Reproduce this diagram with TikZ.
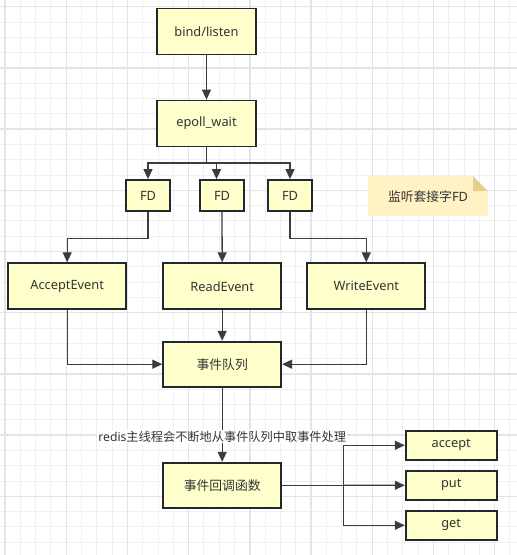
\documentclass[tikz,border=0pt]{standalone}
\usepackage{fontspec}
\setmainfont{Noto Sans}
\newfontfamily\cjk{Noto Sans CJK SC}
\definecolor{boxfill}{RGB}{255,255,204}
\definecolor{boxline}{RGB}{34,40,44}
\definecolor{arrgray}{RGB}{60,60,60}
\definecolor{txtgray}{RGB}{51,51,51}
\definecolor{notefill}{RGB}{255,242,196}
\definecolor{notefold}{RGB}{229,208,140}
\definecolor{gridmajor}{RGB}{228,228,228}
\definecolor{gridminor}{RGB}{240,240,240}
\usetikzlibrary{arrows.meta,positioning,calc}

\begin{document}
\begin{tikzpicture}[x=1pt, y=-1pt,
    box/.style={draw=boxline, line width=1.8pt, fill=boxfill, text=txtgray,
                minimum width=99pt, minimum height=46pt,
                font=\fontsize{12.8}{15}\selectfont},
    fdbox/.style={box, minimum width=44pt, minimum height=31pt},
    op/.style={box, minimum width=91pt, minimum height=29pt},
    arr/.style={-{Triangle[length=10pt,width=9pt]}, line width=1.3pt, arrgray},
    lbl/.style={font=\fontsize{12.2}{14}\selectfont, text=txtgray, fill=white,
                inner sep=1pt}
  ]
    \useasboundingbox (0,0) rectangle (517,555);
    \fill[white] (0,0) rectangle (517,555);

    % Background grid
    \foreach \i in {-1,...,34}
      \draw[gridminor, line width=1pt] (5+15.3*\i,0) -- (5+15.3*\i,555);
    \foreach \i in {-1,...,36}
      \draw[gridminor, line width=1pt] (0,6.7+15.3*\i) -- (517,6.7+15.3*\i);
    \foreach \i in {0,...,8}
      \draw[gridmajor, line width=1.4pt] (5+61.2*\i,0) -- (5+61.2*\i,555);
    \foreach \i in {0,...,9}
      \draw[gridmajor, line width=1.4pt] (0,6.7+61.2*\i) -- (517,6.7+61.2*\i);

    % Listen and wait
    \node[box] (bind) at (206.5, 31.5) {bind/listen};
    \node[box] (epoll) at (206.5, 123.5) {epoll\_wait};
    \draw[arr] (bind) -- (epoll);

    % Ready descriptors
    \node[fdbox] (fd1) at (148, 195.5) {FD};
    \node[fdbox] (fd2) at (222, 195.5) {FD};
    \node[fdbox] (fd3) at (290, 195.5) {FD};
    \coordinate (split) at (206.5, 163);
    \draw[arr] (epoll.south) -- (split) -| (fd1.north);
    \draw[arr] (split) -| ([xshift=-5.5pt]fd2.north);
    \draw[arr] (split) -| (fd3.north);

    % Note
    \fill[notefill] (368,176) -- (473,176) -- (488,191) -- (488,216) -- (368,216) -- cycle;
    \fill[notefold] (473,176) -- (488,191) -- (473,191) -- cycle;
    \node[font=\fontsize{12.8}{15}\selectfont, text=txtgray] (note) at (428, 196.5)
      {{\cjk 监听套接字}FD};

    % Events
    \node[box, minimum width=118pt] (accept) at (67.2, 286.2) {AcceptEvent};
    \node[box, minimum width=118pt] (read) at (222.2, 286.2) {ReadEvent};
    \node[box, minimum width=118pt] (write) at (366.3, 286.2) {WriteEvent};
    \draw[arr] (fd1.south) -- ++(0,26.7) -| (accept.north);
    \draw[arr] (fd2.south) -- (read.north);
    \draw[arr] (fd3.south) -- ++(0,26.7) -| (write.north);

    % Queue
    \node[box, minimum width=118pt, minimum height=45pt] (queue) at (222.2, 364.2)
      {\cjk 事件队列};
    \draw[arr] (accept.south) |- (queue.west);
    \draw[arr] (read.south) -- (queue.north);
    \draw[arr] (write.south) |- (queue.east);

    % Callback
    \node[box, minimum width=118pt, minimum height=45pt] (cb) at (222.2, 485.2)
      {\cjk 事件回调函数};
    \draw[arr] (queue.south) -- (cb.north)
      node[lbl, pos=0.66] (take) {redis{\cjk 主线程会不断地从事件队列中取事件处理}};

    % Handlers
    \node[op] (acc) at (451.2, 445.3) {accept};
    \node[op] (put) at (451.2, 485.3) {put};
    \node[op] (get) at (451.2, 525.3) {get};
    \coordinate (fork) at (343.3, 485.2);
    \draw[arr] (cb.east) -- (fork) |- (acc.west);
    \draw[arr] (fork) -- (put.west);
    \draw[arr] (fork) |- (get.west);
  \end{tikzpicture}
\end{document}
